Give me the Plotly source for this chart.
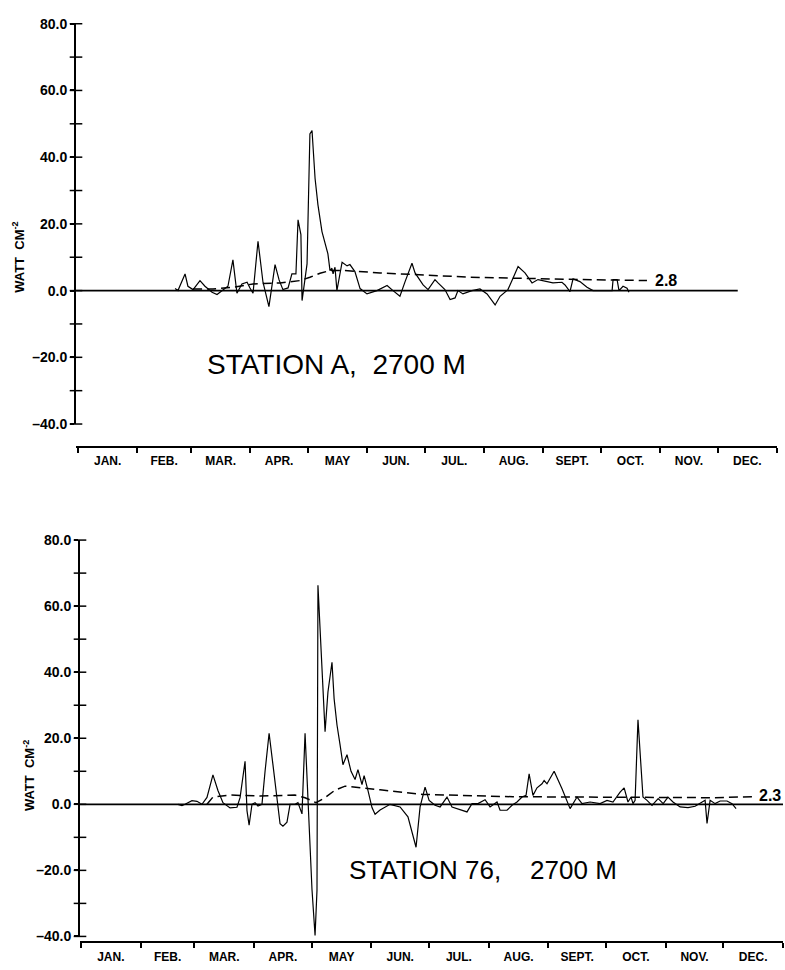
import plotly.graph_objects as go

W, H = 785, 970

# ---------------- categories / ticks ----------------
month_bounds = [0, 31, 59, 90, 120, 151, 181, 212, 243, 273, 304, 334, 365]
month_labels = ["JAN.", "FEB.", "MAR.", "APR.", "MAY", "JUN.", "JUL.", "AUG.",
                "SEPT.", "OCT.", "NOV.", "DEC."]
month_mids = [(a + b) / 2 for a, b in zip(month_bounds[:-1], month_bounds[1:])]

y_major = [-40, -20, 0, 20, 40, 60, 80]
y_major_text = ["\u201340.0", "\u201320.0", "0.0", "20.0", "40.0", "60.0", "80.0"]
y_all = [-40, -30, -20, -10, 0, 10, 20, 30, 40, 50, 60, 70, 80]

# ---------------- Station A data (day of year, W) ----------------
a_day = [50.7, 52.2, 55.9, 57.4, 60.1, 63.7, 66.3, 70.0, 72.6, 75.2,
         78.3, 80.9, 83.0, 85.6, 88.3, 89.8, 91.4, 94.0, 96.6, 99.7,
         102.9, 105.0, 107.0, 109.7, 111.7, 113.8, 114.9, 116.4, 117.0, 119.6,
         121.1, 122.2, 123.8, 125.3, 127.4, 130.5, 131.6, 132.6, 133.2, 134.2,
         135.2, 137.9, 140.5, 142.0, 144.6, 147.3, 150.9, 156.1, 161.4, 164.5,
         168.1, 170.8, 174.4, 176.0, 180.2, 182.8, 186.4, 188.0, 191.6, 194.3,
         196.9, 198.4, 201.0, 205.7, 209.9, 213.6, 217.8, 220.4, 224.5, 227.2,
         229.8, 233.4, 237.1, 240.2, 244.9, 248.0, 252.7, 254.3, 256.9, 258.5,
         262.1, 265.8, 268.9, 272.6, 278.9, 279.4, 281.5, 282.5, 284.6, 286.7,
         287.7]
a_val = [0.6, 0, 5.0, 1.3, 0.3, 3.0, 1.3, -0.5, -1.2, 0,
         1.3, 9.2, -0.8, 2.0, 2.5, 0.8, -0.8, 14.8, 2.5, -4.8,
         7.8, 3.2, 0.3, 0.8, 5.0, 5.0, 21.2, 16.8, -3.0, 8.0,
         47.0, 48.0, 33.6, 25.7, 17.7, 11.0, 6.0, 6.7, 5.0, 7.0,
         0, 8.5, 7.4, 7.8, 5.7, 0.6, -1.0, 0, 1.5, 0,
         -1.7, 2.7, 8.2, 5.3, 1.7, 0.3, 3.3, 2.3, 0.3, -2.7,
         -2.2, 0, -1.0, 0, 0.5, -1.0, -4.3, -1.7, 0.3, 3.8,
         7.2, 5.3, 2.3, 3.3, 2.7, 2.3, 2.5, 1.7, -0.3, 3.5,
         2.7, 1.0, 0, 0, 0, 3.3, 3.3, 0, 1.3, 0.7,
         -0.5]
a_mean_day = [60.1, 70.5, 80.9, 91.4, 105.5, 115.9, 121.1, 126.4, 131.6,
              139.4, 157.7, 178.6, 204.7, 246.5, 297.1]
a_mean_val = [0.5, 0.5, 1.0, 2.0, 2.3, 3.0, 4.0, 5.2, 6.0,
              6.0, 5.3, 4.8, 4.0, 3.5, 3.0]
a_zero_day = [-1.0, 344.5]
a_mean_label = "2.8"

# ---------------- Station 76 data ----------------
b_day = [50.4, 52.5, 54.1, 57.7, 60.3, 62.9, 65.5, 68.6, 71.2, 73.8,
         77.5, 81.1, 82.7, 85.3, 86.3, 87.4, 88.9, 90.5, 92.0, 94.1,
         95.7, 97.8, 99.8, 101.9, 103.5, 105.0, 107.1, 108.7, 111.3, 112.8,
         114.9, 116.5, 118.0, 120.1, 121.7, 122.7, 123.2, 124.8, 125.8, 126.9,
         128.4, 130.5, 131.6, 133.1, 134.7, 136.2, 138.3, 140.4, 142.5, 144.0,
         146.1, 147.2, 149.2, 151.3, 152.9, 155.5, 160.7, 165.9, 170.0, 174.2,
         176.3, 178.9, 181.0, 184.1, 186.7, 190.3, 192.9, 197.1, 200.7, 203.3,
         206.4, 210.1, 212.7, 216.3, 217.9, 221.5, 224.1, 226.7, 229.3, 231.4,
         233.0, 235.0, 237.1, 239.7, 240.8, 242.3, 246.0, 250.1, 252.7, 254.3,
         257.9, 260.5, 264.7, 269.9, 273.5, 276.6, 280.3, 282.4, 284.4, 286.0,
         287.0, 288.1, 289.6, 292.2, 294.3, 296.9, 300.1, 302.7, 305.2, 307.8,
         311.5, 315.6, 319.3, 321.9, 324.5, 325.5, 327.1, 329.7, 332.3, 335.9,
         338.5, 340.6]
b_val = [0, -0.4, 0, 1.1, 0.9, 0, 2.1, 8.9, 4.2, 0.5,
         -1.1, -0.9, 2.0, 13.0, -1.9, -6.3, 0, 0.5, -0.5, 0,
         10.0, 21.5, 12.0, 2.0, -5.9, -6.6, -5.4, 0, 0, 0.5,
         -2.9, 21.5, 0.7, -25.8, -39.7, -26.0, 66.3, 47.8, 34.0, 22.0,
         34.0, 43.0, 32.0, 24.0, 18.0, 12.0, 15.0, 10.0, 7.5, 10.5,
         6.0, 8.7, 4.2, -1.0, -3.0, -1.7, 0, -0.8, -3.8, -13.0,
         -0.8, 5.2, 1.2, -0.3, -0.8, 2.2, -0.8, -1.6, -2.3, 0.2,
         0.2, 1.4, -0.8, 0.7, -1.8, -1.8, -0.3, 0.7, 2.2, 2.7,
         9.2, 2.7, 5.0, 6.2, 7.2, 6.2, 10.0, 4.7, 1.2, -1.3,
         2.2, 0.2, 0.7, 0.2, 1.2, 0.7, 3.7, 5.0, 0.7, 2.2,
         0.2, 1.2, 25.6, 2.2, 1.2, -0.3, 1.7, 0.2, 2.2, 0.7,
         -0.8, -1.0, -0.6, 0.2, 1.2, -5.8, 1.2, 0.2, 1.0, 1.0,
         0.2, -1.3]
b_mean_day = [65.5, 68.6, 77.5, 93.1, 111.3, 116.5, 122.2, 126.9, 132.1,
              137.3, 155.5, 177.8, 224.6, 276.6, 328.6, 350.5]
b_mean_val = [0, 2.2, 2.8, 2.5, 2.8, 2.0, 0.5, 2.0, 4.3,
              5.5, 4.4, 3.0, 2.3, 2.2, 2.0, 2.3]
b_zero_day = [-0.5, 365]
b_mean_label = "2.3"

# ---------------- geometry (paper fractions) ----------------
def fy(px):
    return (H - px) / H

def fx(px):
    return px / W

FONT = "Liberation Sans, Arial, sans-serif"
BLACK = "black"

# top panel: month axis at px 446, y: 80 -> px16, -40 -> px423
top_xdom = [fx(76), fx(777)]
top_xrng = [-1.04, 365]
top_ydom = [fy(423), fy(16)]
top_yrng = [-40, 80]
top_xpos = fy(446)
# bottom panel: month axis at px 950, y: 80 -> px541, -40 -> px944
bot_xdom = [fx(80), fx(783)]
bot_xrng = [-0.52, 365]
bot_ydom = [fy(944), fy(541)]
bot_yrng = [-40, 80]
bot_xpos = fy(950)

fig = go.Figure()


def add_panel(xa, ya, zero_day, mean_day, mean_val, day, val, xrng):
    fig.add_trace(go.Scatter(x=zero_day, y=[0, 0], mode="lines", xaxis=xa, yaxis=ya,
                             line=dict(color=BLACK, width=1.8), hoverinfo="skip"))
    fig.add_trace(go.Scatter(x=mean_day, y=mean_val, mode="lines", xaxis=xa, yaxis=ya,
                             line=dict(color=BLACK, width=1.5, dash="9px,5px")))
    fig.add_trace(go.Scatter(x=day, y=val, mode="lines", xaxis=xa, yaxis=ya,
                             line=dict(color=BLACK, width=1.2)))
    # crossing tick marks on the value axis
    fig.add_trace(go.Scatter(x=[xrng[0]] * len(y_all), y=y_all, mode="markers",
                             xaxis=xa, yaxis=ya, cliponaxis=False, hoverinfo="skip",
                             marker=dict(symbol="line-ew", size=9, color=BLACK,
                                         line=dict(width=1.5, color=BLACK))))


add_panel("x", "y", a_zero_day, a_mean_day, a_mean_val, a_day, a_val, top_xrng)
add_panel("x2", "y2", b_zero_day, b_mean_day, b_mean_val, b_day, b_val, bot_xrng)

xtickfont = dict(family=FONT, size=12, color=BLACK, weight="bold")
ytickfont = dict(family=FONT, size=14, color=BLACK, weight="bold")


def xaxis_main(domain, rng, pos):
    return dict(domain=domain, range=rng, anchor="free", position=pos,
                showline=True, linewidth=2,
                linecolor=BLACK, showgrid=False, zeroline=False,
                tickmode="array", tickvals=month_mids, ticktext=month_labels,
                ticks="outside", ticklen=3, tickcolor="rgba(0,0,0,0)",
                tickfont=xtickfont,
                minor=dict(tickmode="array", tickvals=month_bounds, ticks="outside",
                           ticklen=5, tickwidth=1.5, tickcolor=BLACK))


def yaxis_main(domain, rng, anchor):
    return dict(domain=domain, range=rng, anchor=anchor, showline=True,
                linewidth=2, linecolor=BLACK,
                showgrid=False, zeroline=False,
                tickmode="array", tickvals=y_major, ticktext=y_major_text,
                ticks="outside", ticklen=4, tickwidth=1.5, tickcolor=BLACK,
                tickfont=ytickfont)


fig.update_layout(
    width=W, height=H,
    margin=dict(l=0, r=0, t=0, b=0),
    paper_bgcolor="white", plot_bgcolor="white",
    showlegend=False,
    xaxis=xaxis_main(top_xdom, top_xrng, top_xpos),
    yaxis=yaxis_main(top_ydom, top_yrng, "x"),
    xaxis2=xaxis_main(bot_xdom, bot_xrng, bot_xpos),
    yaxis2=yaxis_main(bot_ydom, bot_yrng, "x2"),
)

ann = []
ann.append(dict(x=300.5, y=3.1, xref="x", yref="y", text=a_mean_label,
                showarrow=False, xanchor="left", yanchor="middle",
                font=dict(family=FONT, size=16, color=BLACK, weight="bold")))
ann.append(dict(x=351.5, y=2.6, xref="x2", yref="y2", text=b_mean_label,
                showarrow=False, xanchor="left", yanchor="middle",
                font=dict(family=FONT, size=16, color=BLACK, weight="bold")))
ann.append(dict(x=fx(336.5), y=fy(362), xref="paper", yref="paper",
                text="STATION A,\u00a0\u00a02700 M", showarrow=False,
                xanchor="center", yanchor="middle",
                font=dict(family=FONT, size=28, color=BLACK)))
ann.append(dict(x=fx(482.5), y=fy(876), xref="paper", yref="paper",
                text="STATION 76,\u00a0\u00a0\u00a0\u00a02700\u00a0M", showarrow=False,
                xanchor="center", yanchor="middle",
                font=dict(family=FONT, size=26, color=BLACK)))
ytitle = "WATT\u00a0\u00a0CM<sup>-2</sup>"
ann.append(dict(x=fx(18), y=fy(254), xref="paper", yref="paper", text=ytitle,
                showarrow=False, textangle=-90, xanchor="center", yanchor="middle",
                font=dict(family=FONT, size=13, color=BLACK, weight="bold")))
ann.append(dict(x=fx(29), y=fy(781), xref="paper", yref="paper", text=ytitle,
                showarrow=False, textangle=-90, xanchor="center", yanchor="middle",
                font=dict(family=FONT, size=13, color=BLACK, weight="bold")))
fig.update_layout(annotations=ann)

fig.write_html("out.html")
